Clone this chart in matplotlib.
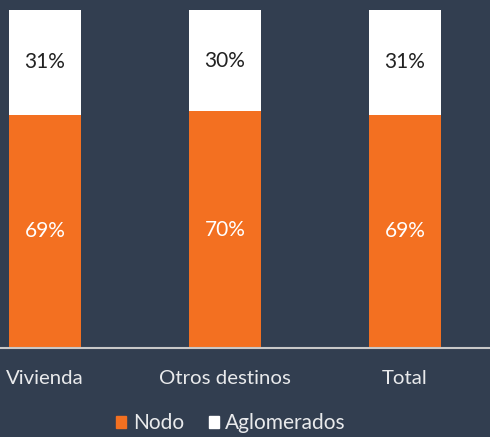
import matplotlib
matplotlib.use("Agg")
import matplotlib.pyplot as plt
import matplotlib.patches as mpatches
import numpy as np

# ── Data ──────────────────────────────────────────────────────────────────────
categories  = ["Vivienda", "Otros destinos", "Total"]
nodo        = [69, 70, 69]
aglomerados = [31, 30, 31]

BG     = "#323e50"
ORANGE = "#f37021"
WHITE  = "#ffffff"
TXT    = "#e9eaec"

plt.rcParams.update({"font.family": ["Lato", "DejaVu Sans"]})

fig = plt.figure(figsize=(4.9, 4.37), dpi=100, facecolor=BG)
ax = fig.add_axes([0, 89/437, 1, (348-10)/437])
ax.set_facecolor(BG)

x = np.arange(len(categories))
n = np.array(nodo) / 100
a = np.array(aglomerados) / 100
ax.bar(x, n, width=0.4, color=ORANGE, edgecolor="none")
ax.bar(x, a, bottom=n, width=0.4, color=WHITE, edgecolor="none")

for xi, nv, av in zip(x, n, a):
    ax.text(xi, nv/2, f"{round(nv*100)}%", ha="center", va="center",
            color="white", fontsize=15)
    ax.text(xi, nv + av/2, f"{round(av*100)}%", ha="center", va="center",
            color="#222222", fontsize=15)

ax.set_xlim(-0.25, 2.472)
ax.set_ylim(0, 1)
ax.set_yticks([])
ax.set_xticks(x)
ax.set_xticklabels(categories, color=TXT, fontsize=14.7)
ax.tick_params(axis="x", length=0, pad=16)
for s in ["top", "right", "left"]:
    ax.spines[s].set_visible(False)
ax.spines["bottom"].set_color("#c8c8c8")
ax.spines["bottom"].set_linewidth(1.5)

handles = [mpatches.Patch(color=ORANGE, label="Nodo"),
           mpatches.Patch(color=WHITE, label="Aglomerados")]
fig.legend(handles=handles, loc="center", bbox_to_anchor=(231/490, 1-423/437),
           ncol=2, frameon=False, fontsize=15, labelcolor=TXT,
           handlelength=0.5, handleheight=0.5, handletextpad=0.3,
           columnspacing=1.2)

fig.savefig("out.png", dpi=100, facecolor=BG)
